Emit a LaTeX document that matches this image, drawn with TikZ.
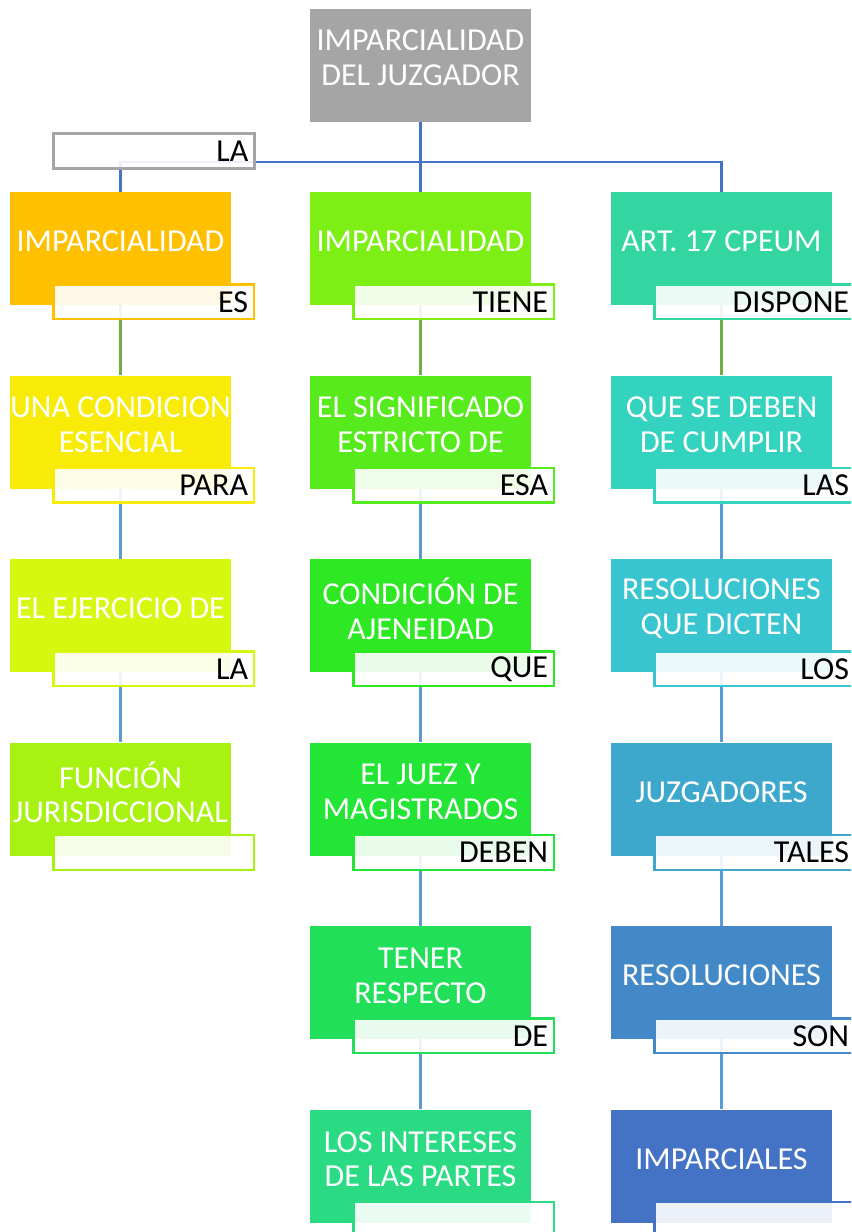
\documentclass[tikz,border=0pt]{standalone}
\usepackage{fontspec}
\setmainfont{Carlito}
\usetikzlibrary{positioning}

\definecolor{gris}{HTML}{A5A5A5}
\definecolor{azulo}{HTML}{4472C4}
\definecolor{verdel}{HTML}{70AD47}
\definecolor{azull}{HTML}{5B9BD5}
% columna izquierda
\definecolor{ca1}{HTML}{FFC000}
\definecolor{ca2}{HTML}{F8EB07}
\definecolor{ca3}{HTML}{D6F70F}
\definecolor{ca4}{HTML}{A8F212}
% columna central
\definecolor{cb1}{HTML}{7DEF15}
\definecolor{cb2}{HTML}{57EA1D}
\definecolor{cb3}{HTML}{2EE824}
\definecolor{cb4}{HTML}{22E535}
\definecolor{cb5}{HTML}{22DF5A}
\definecolor{cb6}{HTML}{2ADB84}
% columna derecha
\definecolor{cc1}{HTML}{33D6A0}
\definecolor{cc2}{HTML}{33D3BF}
\definecolor{cc3}{HTML}{38C5CF}
\definecolor{cc4}{HTML}{3EA8CC}
\definecolor{cc5}{HTML}{4389C7}
\definecolor{cc6}{HTML}{4472C4}

\tikzset{
  concepto/.style={rectangle, fill=#1, minimum width=165.75pt,
    minimum height=84.75pt, inner sep=0pt},
  texto/.style={text=white, align=center,
    font=\fontsize{24}{26}\selectfont, yshift=5.25pt},
  enlace/.style={rectangle, draw=#1, line width=1.8pt, fill=white,
    fill opacity=0.9, text opacity=1, text=black, minimum height=26pt,
    text width=141.5pt, inner xsep=4.5pt, inner ysep=0pt, align=right,
    font=\fontsize{24}{25}\selectfont},
  rama/.style={line width=1.8pt, draw=#1}
}

\begin{document}
\begin{tikzpicture}[x=0.75pt,y=-0.75pt,node distance=52.5pt]
  \useasboundingbox (0,0) rectangle (851,1232);
  \clip (0,0) rectangle (851,1232);

  \node[concepto=gris, label={[texto]center:IMPARCIALIDAD\\DEL JUZGADOR}] (juzgador) at (420.5,65) {};

  % columna izquierda
  \node[concepto=ca1, label={[texto]center:IMPARCIALIDAD}] (a1) at (120.5,248.5) {};
  \node[concepto=ca2, label={[texto]center:UNA CONDICION\\ESENCIAL}, below=of a1] (a2) {};
  \node[concepto=ca3, label={[texto]center:EL EJERCICIO DE}, below=of a2] (a3) {};
  \node[concepto=ca4, label={[texto]center:FUNCIÓN\\JURISDICCIONAL}, below=of a3] (a4) {};

  % columna central
  \node[concepto=cb1, label={[texto]center:IMPARCIALIDAD}] (b1) at (420.5,248.5) {};
  \node[concepto=cb2, label={[texto]center:EL SIGNIFICADO\\ESTRICTO DE}, below=of b1] (b2) {};
  \node[concepto=cb3, label={[texto]center:CONDICIÓN DE\\AJENEIDAD}, below=of b2] (b3) {};
  \node[concepto=cb4, label={[texto]center:EL JUEZ Y\\MAGISTRADOS}, below=of b3] (b4) {};
  \node[concepto=cb5, label={[texto]center:TENER\\RESPECTO}, below=of b4] (b5) {};
  \node[concepto=cb6, label={[texto]center:LOS INTERESES\\DE LAS PARTES}, below=of b5] (b6) {};

  % columna derecha
  \node[concepto=cc1, label={[texto]center:ART. 17 CPEUM}] (c1) at (721.5,248.5) {};
  \node[concepto=cc2, label={[texto]center:QUE SE DEBEN\\DE CUMPLIR}, below=of c1] (c2) {};
  \node[concepto=cc3, label={[texto]center:RESOLUCIONES\\QUE DICTEN}, below=of c2] (c3) {};
  \node[concepto=cc4, label={[texto]center:JUZGADORES}, below=of c3] (c4) {};
  \node[concepto=cc5, label={[texto]center:RESOLUCIONES}, below=of c4] (c5) {};
  \node[concepto=cc6, label={[texto]center:IMPARCIALES}, below=of c5] (c6) {};

  % ramas
  \coordinate (cruce) at (420.5,162);
  \draw[rama=azulo] (juzgador) -- (b1);
  \draw[rama=azulo] (a1) |- (cruce) -| (c1);
  \draw[rama=verdel] (a1) -- (a2);
  \draw[rama=verdel] (b1) -- (b2);
  \draw[rama=verdel] (c1) -- (c2);
  \draw[rama=azull] (a2) -- (a3);
  \draw[rama=azull] (a3) -- (a4);
  \draw[rama=azull] (b2) -- (b3);
  \draw[rama=azull] (b3) -- (b4);
  \draw[rama=azull] (b4) -- (b5);
  \draw[rama=azull] (b5) -- (b6);
  \draw[rama=azull] (c2) -- (c3);
  \draw[rama=azull] (c3) -- (c4);
  \draw[rama=azull] (c4) -- (c5);
  \draw[rama=azull] (c5) -- (c6);

  % enlaces
  \node[enlace=gris] (la) at (154,151) {LA};
  \node[enlace=ca1, below left=-16.5pt and -18pt of a1.south east] (ea1) {ES};
  \node[enlace=ca2, below left=-16.5pt and -18pt of a2.south east] (ea2) {PARA};
  \node[enlace=ca3, below left=-16.5pt and -18pt of a3.south east] (ea3) {LA};
  \node[enlace=ca4, below left=-16.5pt and -18pt of a4.south east] (ea4) {};
  \node[enlace=cb1, below left=-16.5pt and -18pt of b1.south east] (eb1) {TIENE};
  \node[enlace=cb2, below left=-16.5pt and -18pt of b2.south east] (eb2) {ESA};
  \node[enlace=cb3, below left=-16.5pt and -18pt of b3.south east] (eb3) {QUE};
  \node[enlace=cb4, below left=-16.5pt and -18pt of b4.south east] (eb4) {DEBEN};
  \node[enlace=cb5, below left=-16.5pt and -18pt of b5.south east] (eb5) {DE};
  \node[enlace=cb6, below left=-16.5pt and -18pt of b6.south east] (eb6) {};
  \node[enlace=cc1, below left=-16.5pt and -18pt of c1.south east] (ec1) {DISPONE};
  \node[enlace=cc2, below left=-16.5pt and -18pt of c2.south east] (ec2) {LAS};
  \node[enlace=cc3, below left=-16.5pt and -18pt of c3.south east] (ec3) {LOS};
  \node[enlace=cc4, below left=-16.5pt and -18pt of c4.south east] (ec4) {TALES};
  \node[enlace=cc5, below left=-16.5pt and -18pt of c5.south east] (ec5) {SON};
  \node[enlace=cc6, below left=-16.5pt and -18pt of c6.south east] (ec6) {};
\end{tikzpicture}
\end{document}
